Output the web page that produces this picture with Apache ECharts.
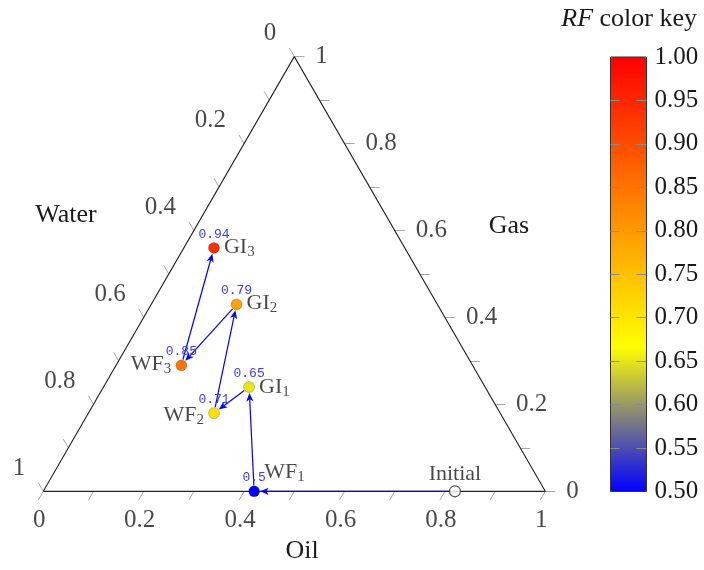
<!DOCTYPE html>
<html><head><meta charset="utf-8">
<script src="https://cdn.jsdelivr.net/npm/echarts@6/dist/echarts.min.js"></script>
<style>html,body{margin:0;padding:0;background:#fff}#c{width:704px;height:570px}</style>
</head><body><div id="c"></div>
<script>
// ---- data (ternary fractions; water = 1 - oil - gas) ----
const pointNames = ['Initial', 'WF1', 'GI1', 'WF2', 'GI2', 'WF3', 'GI3'];
const oilFrac   = [0.82, 0.42, 0.29, 0.25, 0.17, 0.13, 0.06];
const gasFrac   = [0.00, 0.00, 0.24, 0.18, 0.43, 0.29, 0.56];
const rfValues  = [null, 0.5, 0.65, 0.71, 0.79, 0.85, 0.94];
const rfLabels  = ['', '0.5', '0.65', '0.71', '0.79', '0.85', '0.94'];
const minorTicks = [0, 0.1, 0.2, 0.3, 0.4, 0.5, 0.6, 0.7, 0.8, 0.9, 1];
const majorTicks = [0, 0.2, 0.4, 0.6, 0.8, 1];
const majorTickLabels = ['0', '0.2', '0.4', '0.6', '0.8', '1'];
const rfMin = 0.5, rfMax = 1.0, rfStep = 0.05;
const colorbarTicks = [0.55, 0.6, 0.65, 0.7, 0.75, 0.8, 0.85, 0.9, 0.95];
const axisNames = {oil: 'Oil', gas: 'Gas', water: 'Water'};

// ---- style ----
const SERIF = '"Liberation Serif", "DejaVu Serif", serif';
const TXT = '#1a1a1a';
const H = Math.sqrt(3) / 2;
const TICK_LEN = 0.02;
const nameLabelStyle = {
  Initial: {align: 'center', offset: [0, -17]},
  WF1: {align: 'left', offset: [10, -19]},
  GI1: {align: 'left', offset: [10, 0]},
  WF2: {align: 'right', offset: [-10, 2]},
  GI2: {align: 'left', offset: [10, -1]},
  WF3: {align: 'right', offset: [-10, -1]},
  GI3: {align: 'left', offset: [10, -1]}
};

// ternary -> cartesian (water vertex at origin, oil vertex at (1,0), gas vertex at top)
function tern(o, g) { return [o + g / 2, g * H]; }

const tri = [tern(0, 0), tern(1, 0), tern(0, 1), tern(0, 0)];

const tickLines = [];
minorTicks.forEach(a => {
  const pO = tern(a, 0);            // oil axis (bottom)
  tickLines.push({coords: [pO, [pO[0] - 0.5 * TICK_LEN, pO[1] - H * TICK_LEN]]});
  const pG = tern(1 - a, a);        // gas axis (right)
  tickLines.push({coords: [pG, [pG[0] + TICK_LEN, pG[1]]]});
  const pW = tern(0, 1 - a);        // water axis (left)
  tickLines.push({coords: [pW, [pW[0] - 0.5 * TICK_LEN, pW[1] + H * TICK_LEN]]});
});

const tickLabelData = [];
majorTicks.forEach((a, i) => {
  const t = majorTickLabels[i];
  tickLabelData.push({value: tern(a, 0), label: {formatter: t, align: 'center', verticalAlign: 'middle', offset: [-4, 29]}});
  tickLabelData.push({value: tern(1 - a, a), label: {formatter: t, align: 'left', verticalAlign: 'middle', offset: [21, 0]}});
  tickLabelData.push({value: tern(0, 1 - a), label: {formatter: t, align: 'right', verticalAlign: 'middle', offset: [-18, -23]}});
});

const pts = pointNames.map((n, i) => tern(oilFrac[i], gasFrac[i]));

// arrows: each step of the path, from one state to the next
const arrowData = [];
for (let i = 0; i < pts.length - 1; i++) {
  arrowData.push([pts[i][0], pts[i][1], pts[i + 1][0], pts[i + 1][1]]);
}

const rfData = [];
pointNames.forEach((n, i) => {
  if (rfValues[i] !== null) rfData.push({name: n, value: [pts[i][0], pts[i][1], rfValues[i]], rfText: rfLabels[i]});
});
const initData = pointNames.map((n, i) => ({name: n, value: pts[i]})).filter((d, i) => rfValues[i] === null);

const nameData = pointNames.map((n, i) => {
  const st = nameLabelStyle[n];
  const m = n.match(/^(.*?)(\d)$/);
  const txt = m ? m[1] + '{s|' + m[2] + '}' : n;
  return {name: n, value: pts[i], label: {formatter: txt, align: st.align, verticalAlign: 'middle', offset: st.offset}};
});

const cbTickLines = [];
colorbarTicks.forEach(v => {
  cbTickLines.push({coords: [[0, v], [0.25, v]]});
  cbTickLines.push({coords: [[0.72, v], [1, v]]});
});

const MARK_R = 6;     // px gap left at each end (marker radius)
const HEAD_L = 8.5, HEAD_W = 3.6, HEAD_NOTCH = 2.2;
function renderArrow(params, api) {
  const a = api.coord([api.value(0), api.value(1)]);
  const b = api.coord([api.value(2), api.value(3)]);
  const dx = b[0] - a[0], dy = b[1] - a[1];
  const d = Math.hypot(dx, dy);
  const ux = dx / d, uy = dy / d, nx = -uy, ny = ux;
  const s = [a[0] + ux * MARK_R, a[1] + uy * MARK_R];
  const t = [b[0] - ux * MARK_R, b[1] - uy * MARK_R];
  const back = [t[0] - ux * HEAD_L, t[1] - uy * HEAD_L];
  const notch = [t[0] - ux * (HEAD_L - HEAD_NOTCH), t[1] - uy * (HEAD_L - HEAD_NOTCH)];
  return {
    type: 'group',
    children: [
      {type: 'line', shape: {x1: s[0], y1: s[1], x2: notch[0], y2: notch[1]},
        style: {stroke: '#0000ff', lineWidth: 1.2}},
      {type: 'polygon', shape: {points: [t,
          [back[0] + nx * HEAD_W, back[1] + ny * HEAD_W], notch,
          [back[0] - nx * HEAD_W, back[1] - ny * HEAD_W]]},
        style: {fill: '#0000ff'}}
    ]
  };
}

const chart = echarts.init(document.getElementById('c'), null, {renderer: 'canvas'});
chart.setOption({
  animation: false,
  backgroundColor: '#fff',
  title: {
    text: '{i|RF} color key', right: 2, top: 1,
    textStyle: {fontFamily: SERIF, fontSize: 26, fontWeight: 'normal', color: TXT,
      rich: {i: {fontFamily: SERIF, fontSize: 26, fontStyle: 'italic', color: TXT}}}
  },
  graphic: [
    {type: 'text', x: 66, y: 215, style: {text: axisNames.water, font: '26px ' + SERIF, fill: TXT, align: 'center', verticalAlign: 'middle'}},
    {type: 'text', x: 509, y: 226, style: {text: axisNames.gas, font: '26px ' + SERIF, fill: TXT, align: 'center', verticalAlign: 'middle'}},
    {type: 'text', x: 302, y: 551, style: {text: axisNames.oil, font: '26px ' + SERIF, fill: TXT, align: 'center', verticalAlign: 'middle'}}
  ],
  grid: [
    {left: 43.3, top: 56.6, width: 502, height: 502 * H, show: false},
    {left: 610.5, top: 57, width: 36, height: 434.5, show: true, borderColor: '#333', borderWidth: 1, backgroundColor: 'rgba(0,0,0,0)', z: 5}
  ],
  xAxis: [
    {gridIndex: 0, type: 'value', min: 0, max: 1, show: false},
    {gridIndex: 1, type: 'value', min: 0, max: 1, show: false}
  ],
  yAxis: [
    {gridIndex: 0, type: 'value', min: 0, max: H, show: false},
    {gridIndex: 1, type: 'value', min: rfMin, max: rfMax, interval: rfStep, position: 'right', z: 6,
      axisLine: {show: false}, splitLine: {show: false}, axisTick: {show: false},
      axisLabel: {formatter: v => v.toFixed(2), margin: 8, fontFamily: SERIF, fontSize: 25, color: TXT}}
  ],
  visualMap: {
    type: 'continuous', min: rfMin, max: rfMax, dimension: 2, seriesIndex: 5,
    left: 610.5, top: 57, itemWidth: 36, itemHeight: 434.5, padding: 0,
    calculable: false, hoverLink: false, z: 1,
    textStyle: {color: 'rgba(0,0,0,0)'},
    inRange: {color: ['#0000ff', '#ffff00', '#ff8000', '#ff0000']}
  },
  series: [
    {type: 'line', xAxisIndex: 0, yAxisIndex: 0, data: tri, symbol: 'none', clip: false, silent: true,
      lineStyle: {color: '#222', width: 1.1}, z: 3},
    {type: 'lines', coordinateSystem: 'cartesian2d', xAxisIndex: 0, yAxisIndex: 0, data: tickLines, silent: true, clip: false,
      lineStyle: {color: '#a8a8a8', width: 1, opacity: 1}, z: 2},
    {type: 'scatter', xAxisIndex: 0, yAxisIndex: 0, data: tickLabelData, symbolSize: 0, silent: true, clip: false,
      label: {show: true, position: 'inside', fontFamily: SERIF, fontSize: 25, color: TXT}, z: 4},
    {type: 'custom', coordinateSystem: 'cartesian2d', xAxisIndex: 0, yAxisIndex: 0, data: arrowData, silent: true, clip: false,
      renderItem: renderArrow, z: 5},
    {type: 'scatter', xAxisIndex: 0, yAxisIndex: 0, data: initData, symbolSize: 11, clip: false,
      itemStyle: {color: '#fff', borderColor: '#222', borderWidth: 1.1}, z: 6},
    {type: 'scatter', xAxisIndex: 0, yAxisIndex: 0, data: rfData, symbolSize: 11, clip: false,
      itemStyle: {borderColor: 'rgba(0,0,0,0.25)', borderWidth: 0.8, opacity: 1},
      label: {show: true, position: 'top', distance: 1, formatter: p => p.data.rfText,
        fontFamily: '"Liberation Mono", "DejaVu Sans Mono", monospace', fontSize: 13, color: '#3a3aff'}, z: 7},
    {type: 'scatter', xAxisIndex: 0, yAxisIndex: 0, data: nameData, symbolSize: 0, silent: true, clip: false,
      label: {show: true, position: 'inside', fontFamily: SERIF, fontSize: 22, color: TXT,
        rich: {s: {fontFamily: SERIF, fontSize: 15, color: TXT, padding: [10, 0, 0, 0]}}}, z: 8},
    {type: 'lines', coordinateSystem: 'cartesian2d', xAxisIndex: 1, yAxisIndex: 1, data: cbTickLines, silent: true, clip: false,
      lineStyle: {color: '#8a8a8a', width: 1, opacity: 1}, z: 9}
  ]
});
</script>
</body></html>
